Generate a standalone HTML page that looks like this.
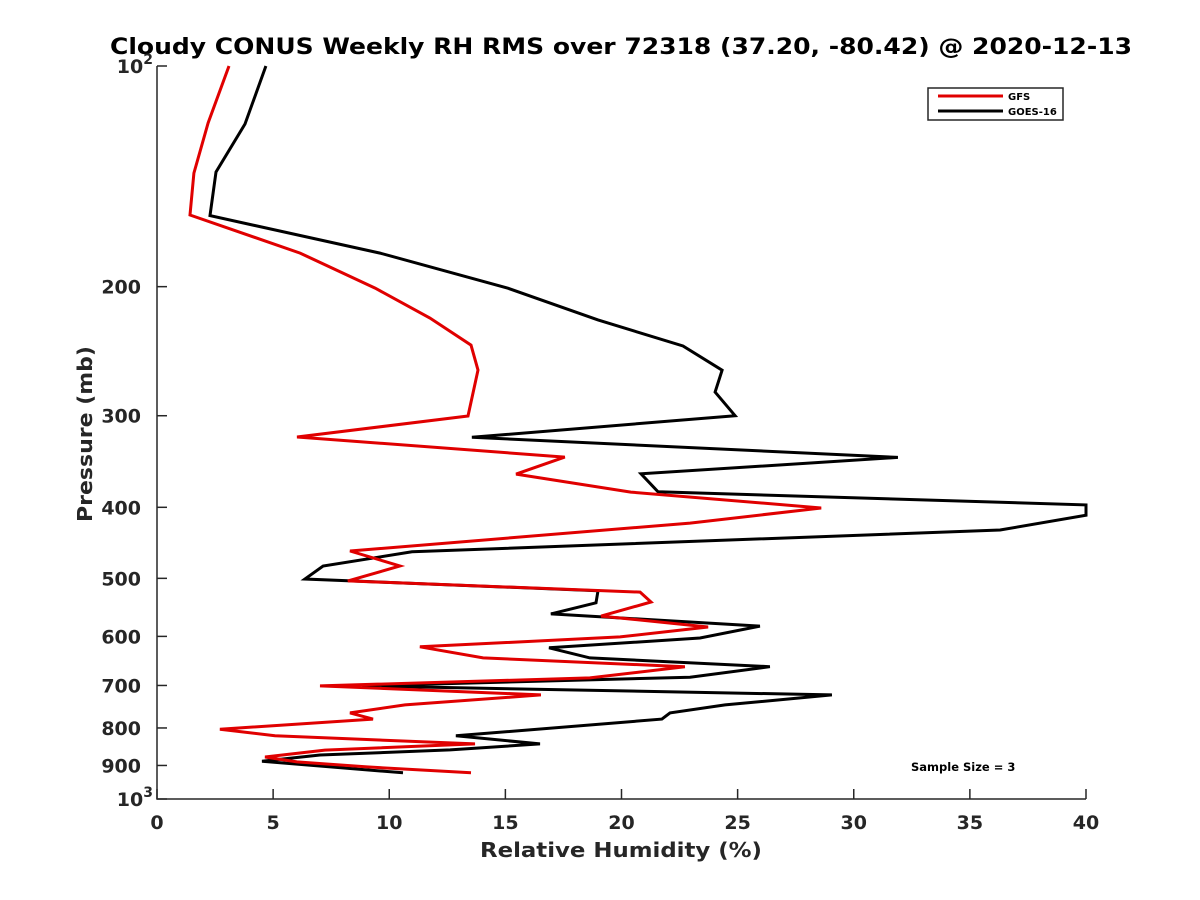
<!DOCTYPE html>
<html><head><meta charset="utf-8"><style>
body{margin:0;background:#fff;}
svg{display:block;font-family:"DejaVu Sans","Liberation Sans",sans-serif;font-weight:bold;}
</style></head><body>
<svg id="chart" width="1200" height="900" viewBox="0 0 1200 900">
<rect width="1200" height="900" fill="#fff"/>
<text x="110" y="54" font-size="22" textLength="1022" lengthAdjust="spacingAndGlyphs" fill="#000">Cloudy CONUS Weekly RH RMS over 72318 (37.20, -80.42) @ 2020-12-13</text>
<g id="axes"></g>
<g id="series"></g>
<text x="480" y="857" font-size="20" textLength="282" lengthAdjust="spacingAndGlyphs" fill="#262626">Relative Humidity (%)</text>
<text transform="translate(92,522) rotate(-90)" font-size="20" textLength="176" lengthAdjust="spacingAndGlyphs" fill="#262626">Pressure (mb)</text>
<g>
<rect x="928" y="88" width="135" height="32" fill="#fff" stroke="#262626" stroke-width="1.5"/>
<line x1="938" y1="96" x2="1003" y2="96" stroke="#e00000" stroke-width="3"/>
<text x="1008" y="100" font-size="10">GFS</text>
<line x1="938" y1="111" x2="1003" y2="111" stroke="#000" stroke-width="3"/>
<text x="1008" y="115" font-size="10">GOES-16</text>
</g>
<text x="911" y="771" font-size="11.5">Sample Size = 3</text>
</svg>
<script>
const xTicks=[0,5,10,15,20,25,30,35,40];
const yTicks=[200,300,400,500,600,700,800,900];
const gfsRH=[3.10,2.20,1.59,1.42,6.16,9.39,11.75,13.52,13.82,13.39,6.03,17.56,15.46,20.4,28.6,22.95,8.31,10.46,8.22,20.8,21.27,19.12,23.73,19.94,11.32,14.04,22.73,18.64,7.02,16.53,10.68,8.31,9.30,2.71,5.08,13.69,7.23,4.65,6.03,9.04,13.52];
const gfsP=[100,119.6,140,159.7,180,200.9,220.7,240.3,259.9,300.3,320.7,341.6,360.4,381.3,400.9,420.3,458.8,481,504,522,538.6,563,582.6,601,620,642,660,683.6,701,721,744,763,778,803,820,841,857.5,876.5,890,904,921];
const goesRH=[4.69,3.79,2.54,2.28,9.60,15.11,18.99,22.65,24.33,24.03,24.89,13.56,31.9,20.84,21.57,40,40,36.3,10.98,7.15,6.37,18.99,18.90,16.96,25.96,23.38,16.88,18.64,26.39,22.95,8.83,29.06,24.46,22.09,21.74,12.87,16.49,12.62,7.02,4.52,10.59];
const goesP=[100,120,139.5,160,180,201,222,241,260,278.5,300,321,342,360,381,397,410,429.6,460,481,501,520,540,559,581,603,622,642,660,682,701,721,744,763,778,820,841,857,871,888,921];
const L=157,R=1086,T=66,B=799;
const xs=v=>L+(v-0)/40*(R-L);
const ys=p=>T+(Math.log10(p)-2)*(B-T);
const NS="http://www.w3.org/2000/svg";
const ax=document.getElementById('axes');
function mk(tag,attrs,parent){const e=document.createElementNS(NS,tag);for(const k in attrs)e.setAttribute(k,attrs[k]);parent.appendChild(e);return e;}
let e=mk('path',{d:`M${L},${T}V${B}H${R}`,fill:'none',stroke:'#262626','stroke-width':1.5},ax);


xTicks.forEach(v=>{
  const x=xs(v);
  const t=mk('line',{x1:x,y1:B,x2:x,y2:B-10,stroke:'#262626','stroke-width':1.5},ax);
  
  
  const l=mk('text',{x:x,y:B+30,'font-size':19,'text-anchor':'middle',fill:'#262626'},ax);
  l.textContent=v;
  
  
});
[100,...yTicks,1000].forEach(p=>{
  const y=ys(p);
  const t=mk('line',{x1:L,y1:y,x2:L+10,y2:y,stroke:'#262626','stroke-width':1.5},ax);
  
  
  const l=mk('text',{x:L-16,y:y+7,'font-size':19,'text-anchor':'end',fill:'#262626'},ax);
  if(p===100||p===1000){
    l.textContent='10';
    const s=mk('tspan',{dy:-9,'font-size':14},l);s.textContent=p===100?'2':'3';
    l.setAttribute('x',L-4);
  } else l.textContent=p;
  
  
});
const sg=document.getElementById('series');
function line(rh,p,color,name){
  const pts=rh.map((v,i)=>xs(v).toFixed(1)+','+ys(p[i]).toFixed(1)).join(' ');
  const pl=mk('polyline',{points:pts,fill:'none',stroke:color,'stroke-width':3,'stroke-linejoin':'miter'},sg);
  
  
}
line(goesRH,goesP,'#000','goes16-line');
line(gfsRH,gfsP,'#e00000','gfs-line');
</script>
</body></html>
